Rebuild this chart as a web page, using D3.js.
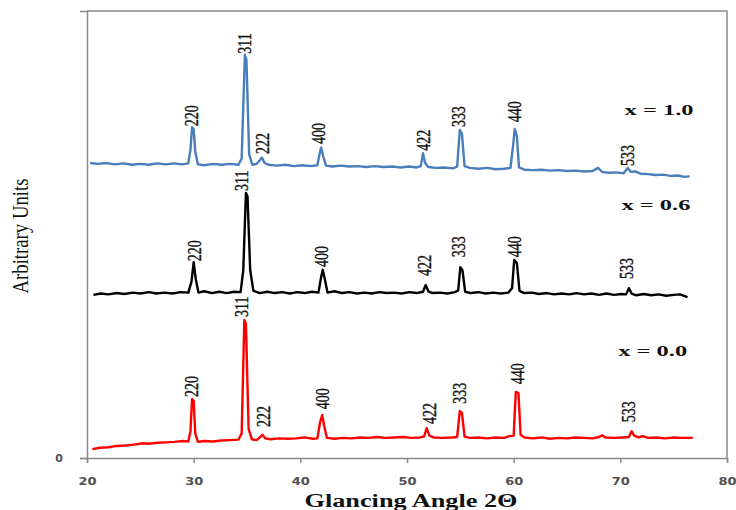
<!DOCTYPE html>
<html>
<head>
<meta charset="utf-8">
<script src="https://cdn.jsdelivr.net/npm/d3@7"></script>
<style>
  body { margin: 0; background: #fff; }
  svg { display: block; }
</style>
</head>
<body>
<div id="chart"></div>
<script>
// x ray diffraction patterns, [glancing angle 2theta, intensity in arbitrary units]
var blueData = [
    [20.3,66.0],[21.0,65.8],[21.8,66.0],[22.6,65.7],[23.4,65.9],[24.2,65.6],[25.0,65.8],[25.8,65.6],
    [26.6,65.9],[27.4,65.7],[28.2,65.9],[28.9,65.7],[29.5,65.9],[29.7,69.0],[29.85,74.0],[30.0,73.5],
    [30.15,68.5],[30.4,65.7],[31.0,65.5],[31.8,65.8],[32.6,65.6],[33.4,65.8],[34.2,65.6],[34.5,67.0],
    [34.8,90.2],[34.95,89.0],[35.2,68.0],[35.5,65.6],[35.9,65.8],[36.2,66.6],[36.4,67.2],[36.65,66.0],
    [37.0,65.6],[37.8,65.4],[38.6,65.6],[39.4,65.3],[40.2,65.5],[41.0,65.3],[41.6,65.5],[41.8,68.0],
    [41.95,69.4],[42.15,67.5],[42.4,65.4],[43.0,65.2],[43.8,65.4],[44.6,65.2],[45.4,65.3],[46.2,65.1],
    [47.0,65.3],[47.8,65.1],[48.6,65.2],[49.4,65.0],[50.2,65.2],[50.9,65.0],[51.3,65.3],[51.5,68.2],
    [51.7,66.0],[52.0,65.1],[52.7,64.9],[53.5,65.0],[54.3,64.8],[54.7,65.2],[54.95,73.4],[55.15,72.5],
    [55.4,65.3],[55.9,64.9],[56.7,64.7],[57.5,64.9],[58.3,64.6],[59.1,64.7],[59.7,64.9],[59.95,70.0],
    [60.1,73.6],[60.3,72.0],[60.5,65.0],[61.0,64.5],[61.8,64.4],[62.6,64.5],[63.4,64.3],[64.2,64.4],
    [65.0,64.2],[65.8,64.3],[66.6,64.1],[67.4,64.2],[67.9,64.9],[68.3,64.0],[68.9,63.8],[69.6,63.9],
    [70.3,63.7],[70.7,64.9],[71.0,64.0],[71.4,64.1],[71.9,63.6],[72.6,63.5],[73.3,63.3],[74.0,63.4],
    [74.7,63.1],[75.4,63.2],[76.0,62.9],[76.5,63.0]
];
var blackData = [
    [20.6,36.5],[21.3,36.8],[22.0,36.6],[22.8,36.9],[23.5,36.7],[24.3,37.0],[25.0,36.8],[25.8,37.1],
    [26.5,36.8],[27.3,37.0],[28.0,36.8],[28.8,37.1],[29.5,37.0],[29.8,39.5],[30.0,43.8],[30.2,40.0],
    [30.45,37.0],[31.0,37.3],[31.7,36.9],[32.4,37.2],[33.1,36.9],[33.8,37.2],[34.4,37.1],[34.65,42.0],
    [34.9,59.3],[35.05,58.5],[35.3,42.0],[35.6,37.4],[36.2,36.9],[36.9,37.2],[37.6,36.9],[38.3,37.1],
    [39.0,36.8],[39.7,37.1],[40.4,36.9],[41.1,37.2],[41.7,37.0],[41.95,40.5],[42.1,42.1],[42.3,40.0],
    [42.55,37.0],[43.2,37.3],[43.9,36.9],[44.6,37.1],[45.3,36.8],[46.0,37.0],[46.7,36.8],[47.4,37.1],
    [48.1,36.9],[48.8,37.0],[49.5,36.8],[50.2,37.1],[50.9,36.9],[51.5,37.2],[51.75,38.7],[52.0,37.3],
    [52.4,36.9],[53.1,37.0],[53.8,36.8],[54.5,37.1],[54.8,37.5],[55.0,42.7],[55.2,42.0],[55.45,37.2],
    [56.0,36.9],[56.7,37.1],[57.4,36.8],[58.1,37.0],[58.8,36.8],[59.5,37.0],[59.85,38.0],[60.05,44.3],
    [60.3,43.6],[60.55,37.4],[61.0,36.9],[61.7,37.0],[62.4,36.7],[63.1,36.9],[63.8,36.6],[64.5,36.8],
    [65.2,36.6],[65.9,36.9],[66.6,36.6],[67.3,36.8],[68.0,36.5],[68.7,36.8],[69.4,36.5],[70.1,36.7],
    [70.55,36.6],[70.8,38.0],[71.05,36.8],[71.5,36.4],[72.2,36.7],[72.9,36.4],[73.6,36.6],[74.3,36.3],
    [75.0,36.5],[75.6,36.6],[76.3,36.0]
];
var redData = [
    [20.5,2.0],[21.2,2.3],[22.0,2.4],[22.8,2.7],[23.6,2.8],[24.4,3.0],[25.2,3.3],[25.8,3.2],
    [26.6,3.4],[27.4,3.5],[28.2,3.6],[29.0,3.8],[29.5,3.7],[29.7,6.0],[29.85,13.2],[30.0,12.8],
    [30.15,5.5],[30.4,3.6],[31.0,3.8],[31.8,3.7],[32.6,3.9],[33.4,4.0],[34.2,4.1],[34.5,5.5],
    [34.75,30.9],[34.9,30.0],[35.15,6.5],[35.45,4.2],[35.9,4.0],[36.2,4.6],[36.45,5.2],[36.7,4.4],
    [37.2,4.2],[38.0,4.4],[38.8,4.3],[39.6,4.4],[40.4,4.6],[41.2,4.3],[41.6,4.4],[41.85,8.0],
    [42.05,9.6],[42.25,7.0],[42.5,4.5],[43.2,4.3],[44.0,4.5],[44.8,4.4],[45.6,4.6],[46.4,4.5],
    [47.2,4.7],[48.0,4.5],[48.8,4.6],[49.6,4.7],[50.4,4.5],[51.2,4.6],[51.6,4.8],[51.85,6.7],
    [52.1,5.0],[52.5,4.6],[53.3,4.5],[54.2,4.6],[54.7,4.7],[54.95,10.5],[55.15,10.1],[55.4,4.8],
    [55.9,4.5],[56.7,4.6],[57.5,4.4],[58.3,4.6],[59.1,4.5],[59.6,4.9],[60.0,5.0],[60.2,14.8],
    [60.45,14.5],[60.65,5.2],[61.0,4.6],[61.8,4.4],[62.6,4.6],[63.4,4.3],[64.2,4.5],[65.0,4.4],
    [65.8,4.6],[66.6,4.5],[67.4,4.4],[68.0,4.7],[68.3,5.1],[68.6,4.6],[69.4,4.5],[70.2,4.6],
    [70.8,4.7],[71.05,6.0],[71.3,5.0],[71.7,4.6],[72.1,4.9],[72.6,4.5],[73.4,4.6],[74.2,4.4],
    [75.0,4.6],[75.8,4.5],[76.8,4.5]
];

// (hkl) reflections and where each label sits: [2theta, intensity at the label foot]
var blueHkl = ['220', '311', '222', '400', '422', '333', '440', '533'];
var blueLabelAt = [[29.85,74.0],[34.8,90.2],[36.5,67.8],[41.75,70.0],[51.6,68.5],[54.9,73.8],[60.1,74.9],[70.7,65.1]];
var blackHkl = ['220', '311', '400', '422', '333', '440', '533'];
var blackLabelAt = [[30.1,43.8],[34.55,59.5],[42.0,42.5],[51.7,40.5],[54.9,44.7],[60.1,44.7],[70.6,39.8]];
var redHkl = ['220', '311', '222', '400', '422', '333', '440', '533'];
var redLabelAt = [[29.84,13.4],[34.55,31.3],[36.6,6.7],[42.1,10.7],[52.2,7.4],[54.97,11.9],[60.4,16.3],[70.8,7.8]];

// composition of each pattern and where its name is written
var seriesNames = ['x = 1.0', 'x = 0.6', 'x = 0.0'];
var seriesNameAt = [[70.4, 76.7], [70.1, 55.5], [69.8, 22.8]];

var xTicks = [20, 30, 40, 50, 60, 70, 80];
var yTicks = [0];

var width = 736, height = 510;
var margin = {top: 11, right: 9, bottom: 52, left: 87};
var innerW = width - margin.left - margin.right;
var innerH = height - margin.top - margin.bottom;

var svg = d3.select('#chart').append('svg')
    .attr('width', width)
    .attr('height', height);

var g = svg.append('g')
    .attr('transform', 'translate(' + margin.left + ',' + margin.top + ')');

var x = d3.scaleLinear().domain([20, 80]).range([0, innerW]);
var y = d3.scaleLinear().domain([0, 100]).range([innerH, 0]);

var axisColor = '#8a8a8a';
var tickFont = '"DejaVu Sans", sans-serif';

// plot frame: top and right borders
g.append('path')
    .attr('d', 'M' + x(20) + ',' + y(100) + 'H' + x(80) + 'V' + y(0))
    .attr('fill', 'none')
    .attr('stroke', axisColor)
    .attr('stroke-width', 1.5);

// x axis
var xAxis = g.append('g')
    .attr('transform', 'translate(0,' + innerH + ')')
    .call(d3.axisBottom(x).tickValues(xTicks).tickSize(5).tickSizeOuter(5).tickPadding(14));
xAxis.selectAll('path, line').attr('stroke', axisColor).attr('stroke-width', 1.5);
xAxis.selectAll('text')
    .attr('fill', '#505050')
    .attr('font-family', tickFont)
    .attr('font-weight', 'bold')
    .attr('font-size', 11)
    .attr('transform', 'scale(1.18,1)');

// y axis, only the zero is labelled
var yAxis = g.append('g')
    .call(d3.axisLeft(y).tickValues(yTicks).tickSize(7).tickSizeOuter(7).tickPadding(17));
yAxis.selectAll('path, line').attr('stroke', axisColor).attr('stroke-width', 1.5);
yAxis.selectAll('text')
    .attr('fill', '#505050')
    .attr('font-family', tickFont)
    .attr('font-weight', 'bold')
    .attr('font-size', 11);

// axis titles
svg.append('text')
    .attr('x', 411)
    .attr('y', 507)
    .attr('text-anchor', 'middle')
    .attr('font-family', '"Liberation Serif", serif')
    .attr('font-weight', 'bold')
    .attr('font-size', 18)
    .attr('textLength', 213)
    .attr('lengthAdjust', 'spacingAndGlyphs')
    .attr('fill', '#111')
    .text('Glancing Angle 2\u0398');

svg.append('text')
    .attr('transform', 'translate(28,236) rotate(-90) scale(1,1.25)')
    .attr('text-anchor', 'middle')
    .attr('font-family', '"Liberation Serif", serif')
    .attr('font-size', 18)
    .attr('textLength', 115)
    .attr('lengthAdjust', 'spacingAndGlyphs')
    .attr('fill', '#111')
    .text('Arbitrary Units');

var line = d3.line()
    .x(function (d) { return x(d[0]); })
    .y(function (d) { return y(d[1]); });

var series = [
    {data: blueData, color: '#4a7ebb', hkl: blueHkl, at: blueLabelAt},
    {data: blackData, color: '#000000', hkl: blackHkl, at: blackLabelAt},
    {data: redData, color: '#ff0000', hkl: redHkl, at: redLabelAt}
];

series.forEach(function (s, i) {
    // the pattern itself
    g.append('path')
        .datum(s.data)
        .attr('fill', 'none')
        .attr('stroke', s.color)
        .attr('stroke-width', 2.4)
        .attr('stroke-linejoin', 'round')
        .attr('d', line);

    // rotated (hkl) labels over the peaks, glyphs widened like the source
    g.selectAll('.hkl' + i).data(s.hkl)
        .enter()
        .append('text')
        .attr('class', 'hkl' + i)
        .attr('transform', function (d, j) {
            return 'translate(' + x(s.at[j][0]) + ',' + (y(s.at[j][1]) - 1) + ') rotate(-90) scale(1,1.3)';
        })
        .attr('dy', '0.33em')
        .attr('font-family', '"Liberation Serif", serif')
        .attr('font-size', 14)
        .attr('stroke', '#111')
        .attr('stroke-width', 0.3)
        .attr('fill', '#111')
        .text(function (d) { return d; });

    // composition name
    g.append('text')
        .attr('x', x(seriesNameAt[i][0]))
        .attr('y', y(seriesNameAt[i][1]))
        .attr('font-family', '"Liberation Serif", serif')
        .attr('font-weight', 'bold')
        .attr('font-size', 15)
        .attr('textLength', 69)
        .attr('lengthAdjust', 'spacingAndGlyphs')
        .attr('fill', '#111')
        .text(seriesNames[i]);
});
</script>
</body>
</html>
